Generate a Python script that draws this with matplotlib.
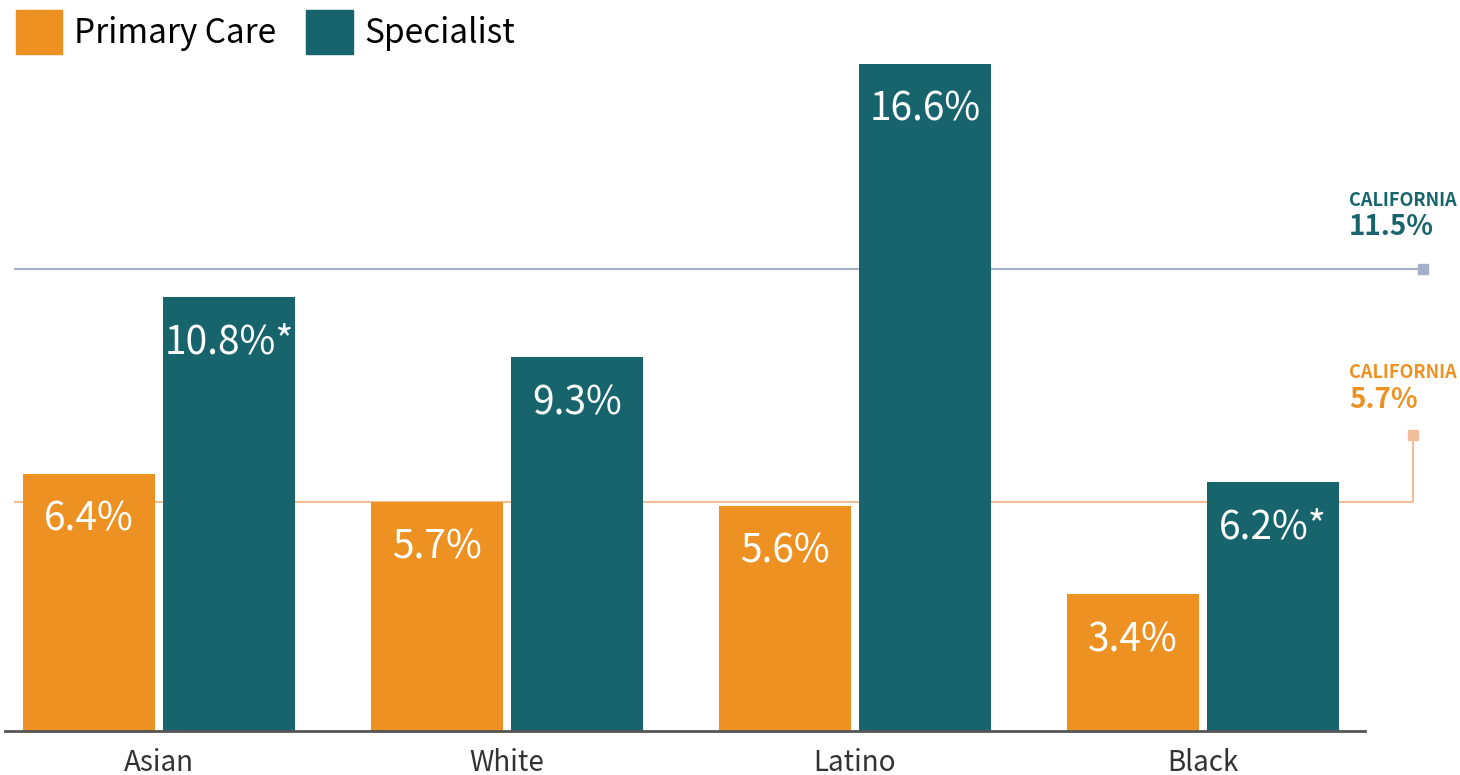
import numpy as np
import matplotlib.pyplot as plt
from matplotlib.patches import Patch

groups = ["Asian", "White", "Latino", "Black"]
primary = [6.4, 5.7, 5.6, 3.4]
specialist = [10.8, 9.3, 16.6, 6.2]
primary_labels = ["6.4%", "5.7%", "5.6%", "3.4%"]
specialist_labels = ["10.8%*", "9.3%", "16.6%", "6.2%*"]
ca_specialist = 11.5
ca_primary = 5.7

ORANGE = "#EE9123"
TEAL = "#17646D"
TEAL_LINE = "#A3B0C8"
ORANGE_LINE = "#F2BE9A"

plt.rcParams['font.family'] = ['Noto Sans CJK SC', 'DejaVu Sans']

fig = plt.figure(figsize=(14.6, 7.75), dpi=100)
ax = fig.add_axes([0, 44 / 775, 1, 731 / 775])

x = np.arange(len(groups))
w = 132 / 348
off = 70 / 348

b1 = ax.bar(x - off, primary, w, color=ORANGE, zorder=3)
b2 = ax.bar(x + off, specialist, w, color=TEAL, zorder=3)

for bars, labels in [(b1, primary_labels), (b2, specialist_labels)]:
    for rect, lab in zip(bars, labels):
        ax.annotate(lab, (rect.get_x() + rect.get_width() / 2, rect.get_height()),
                    xytext=(0, -33), textcoords="offset points",
                    ha="center", va="center", color="white", fontsize=28, zorder=4)

# California reference lines
x_left = (15 - 159) / 348
x_teal_end = (1423 - 159) / 348
x_orange_end = (1413 - 159) / 348
ax.plot([x_left, x_teal_end], [ca_specialist, ca_specialist], color=TEAL_LINE, lw=1.5, zorder=1)
ax.plot([x_teal_end], [ca_specialist], marker="s", ms=7, color=TEAL_LINE, zorder=1, clip_on=False)
y_mark = 7.37
ax.plot([x_left, x_orange_end, x_orange_end], [ca_primary, ca_primary, y_mark],
        color=ORANGE_LINE, lw=1.5, zorder=1)
ax.plot([x_orange_end], [y_mark], marker="s", ms=7, color=ORANGE_LINE, zorder=1)

x_txt = (1349 - 159) / 348
ax.text(x_txt, 13.2, "CALIFORNIA", color=TEAL, fontsize=13, fontweight="bold", va="center", ha="left")
ax.text(x_txt, 12.55, "11.5%", color=TEAL, fontsize=20, fontweight="bold", va="center", ha="left")
ax.text(x_txt, 8.91, "CALIFORNIA", color=ORANGE, fontsize=13, fontweight="bold", va="center", ha="left")
ax.text(x_txt, 8.24, "5.7%", color=ORANGE, fontsize=20, fontweight="bold", va="center", ha="left")

# baseline
ax.plot([(5 - 159) / 348, (1365 - 159) / 348], [0, 0], color="#555555", lw=2, zorder=5, clip_on=False)

ax.set_xlim(-159 / 348, (1460 - 159) / 348)
ax.set_ylim(0, 731 / 40.18)
ax.set_xticks(x)
ax.set_xticklabels(groups, fontsize=20, color="#333333")
ax.tick_params(axis="x", length=0, pad=12)
ax.set_yticks([])
for s in ax.spines.values():
    s.set_visible(False)

handles = [Patch(color=ORANGE, label="Primary Care"), Patch(color=TEAL, label="Specialist")]
fig.legend(handles=handles, loc="upper left", bbox_to_anchor=(0.0015, 1.004), ncol=2,
           frameon=False, fontsize=24, handlelength=1.4, handleheight=1.65,
           handletextpad=0.35, columnspacing=0.9, borderaxespad=0)

fig.savefig("out.png", dpi=100)
